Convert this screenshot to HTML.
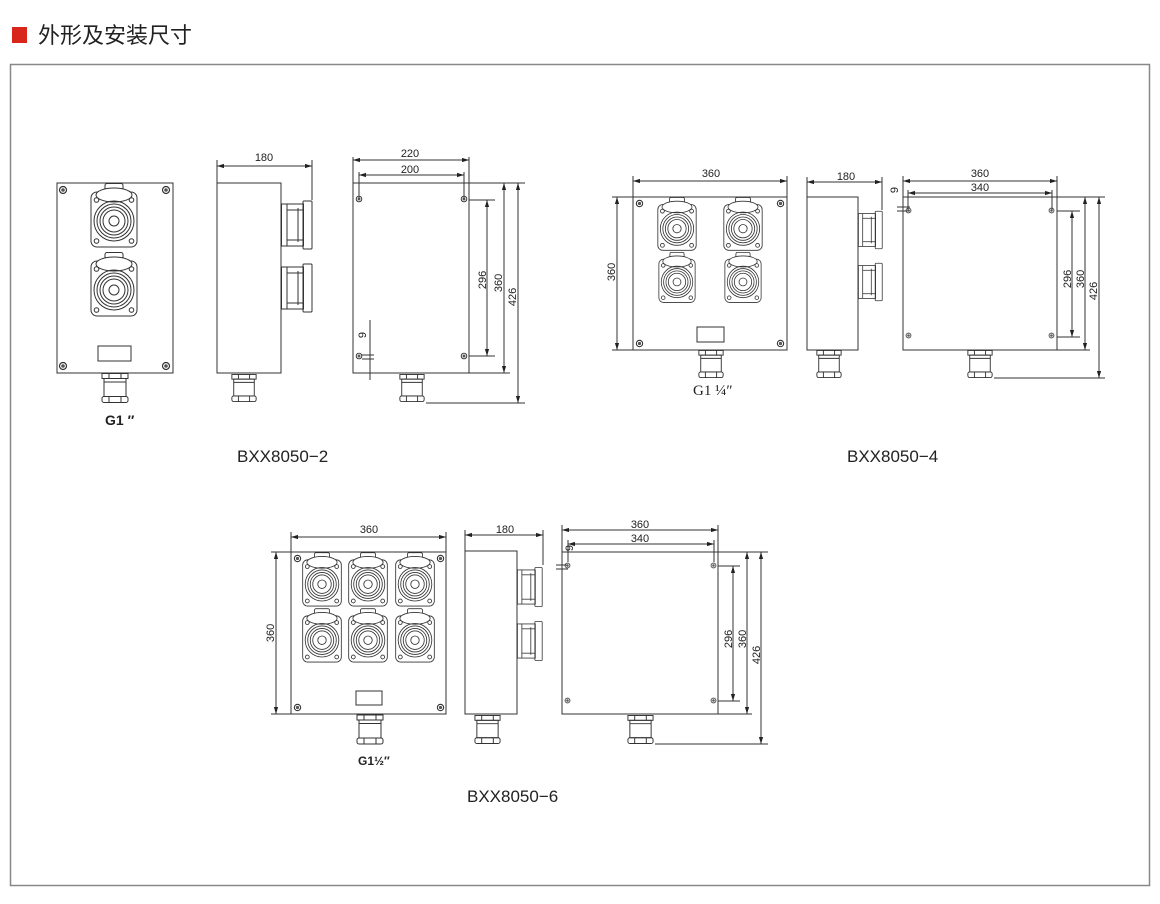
<!DOCTYPE html>
<html><head><meta charset="utf-8"><style>
html,body{margin:0;padding:0;background:#fff;width:1160px;height:904px;overflow:hidden}
svg{display:block}
text{font-family:"Liberation Sans",Arial,sans-serif;fill:#222}
</style></head><body>
<svg width="1160" height="904" viewBox="0 0 1160 904" xmlns="http://www.w3.org/2000/svg">
<defs>
<marker id="a" viewBox="0 0 10 10" refX="10" refY="5" markerWidth="7" markerHeight="7" orient="auto-start-reverse"><path d="M0,2 L10,5 L0,8 z" fill="#222"/></marker>
<symbol id="sock" viewBox="0 0 50 66">
 <g fill="none" stroke="#333" stroke-width="1">
 <rect x="16" y="0.5" width="18" height="8" rx="2"/>
 <rect x="2" y="9" width="46" height="55" rx="6"/>
 <ellipse cx="25" cy="12" rx="18" ry="7" fill="#fff"/>
 <circle cx="7.5" cy="17" r="2.3"/><circle cx="42.5" cy="17" r="2.3"/>
 <circle cx="7.5" cy="58" r="2.3"/><circle cx="42.5" cy="58" r="2.3"/>
 <circle cx="25" cy="38" r="20"/><circle cx="25" cy="38" r="17"/><circle cx="25" cy="38" r="14"/><circle cx="25" cy="38" r="11"/><circle cx="25" cy="38" r="5"/>
 </g></symbol>
<symbol id="side" viewBox="0 0 32 50">
 <g fill="none" stroke="#333" stroke-width="1">
 <rect x="0.5" y="4" width="22" height="42"/><rect x="22" y="1" width="9" height="48" rx="1"/>
 <line x1="6" y1="4" x2="6" y2="46"/><line x1="17" y1="8" x2="17" y2="42"/><line x1="6" y1="10" x2="22" y2="10"/><line x1="6" y1="40" x2="22" y2="40"/>
 </g></symbol>
<symbol id="gl" viewBox="0 0 30 30">
 <g fill="none" stroke="#333" stroke-width="1">
 <rect x="2" y="0.5" width="26" height="5"/><line x1="9" y1="0.5" x2="9" y2="5.5"/><line x1="21" y1="0.5" x2="21" y2="5.5"/>
 <rect x="4" y="5.5" width="22" height="18"/><line x1="4" y1="9" x2="26" y2="9"/>
 <rect x="2" y="23.5" width="26" height="6" rx="2"/><line x1="9" y1="23.5" x2="9" y2="29.5"/><line x1="21" y1="23.5" x2="21" y2="29.5"/>
 </g></symbol>
<symbol id="hole" viewBox="0 0 10 10"><circle cx="5" cy="5" r="3.5" fill="none" stroke="#333" stroke-width="1.2"/><circle cx="5" cy="5" r="1.8" fill="#555"/></symbol>
</defs>

<rect x="12" y="27" width="15" height="16" fill="#d9261c"/>
<text x="38" y="43" style="font-family:'Liberation Sans','Noto Sans CJK SC',sans-serif;font-size:22px" fill="#333">外形及安装尺寸</text>
<rect x="10.5" y="64.5" width="1139" height="821" fill="none" stroke="#888" stroke-width="1.5"/>

<g fill="none" stroke="#333" stroke-width="1">
<!-- Diagram 1 -->
<rect x="57" y="183" width="116" height="190"/>
<use href="#sock" x="89" y="183" width="50" height="66"/>
<use href="#sock" x="89" y="252" width="50" height="66"/>
<rect x="98" y="346" width="33" height="15"/>
<use href="#gl" x="100" y="373" width="30" height="30"/>
<rect x="217" y="183" width="64" height="190"/>
<use href="#side" x="281" y="200" width="32" height="50"/>
<use href="#side" x="281" y="263" width="32" height="50"/>
<use href="#gl" x="230" y="373" width="28" height="30"/>
<line x1="217" y1="160" x2="217" y2="183"/><line x1="312" y1="160" x2="312" y2="200"/>
<line x1="217" y1="166" x2="312" y2="166" marker-start="url(#a)" marker-end="url(#a)"/>
<rect x="353" y="183" width="116" height="190"/>
<use href="#gl" x="398" y="373" width="28" height="30"/>
<line x1="353" y1="157" x2="353" y2="183"/><line x1="469" y1="157" x2="469" y2="183"/>
<line x1="353" y1="160" x2="469" y2="160" marker-start="url(#a)" marker-end="url(#a)"/>
<line x1="359" y1="172" x2="359" y2="198"/><line x1="464" y1="172" x2="464" y2="198"/>
<line x1="359" y1="175" x2="464" y2="175" marker-start="url(#a)" marker-end="url(#a)"/>
<line x1="469" y1="200" x2="495" y2="200"/><line x1="469" y1="356" x2="495" y2="356"/>
<line x1="487" y1="200" x2="487" y2="356" marker-start="url(#a)" marker-end="url(#a)"/>
<line x1="469" y1="183" x2="525" y2="183"/><line x1="469" y1="373" x2="510" y2="373"/>
<line x1="504" y1="183" x2="504" y2="373" marker-start="url(#a)" marker-end="url(#a)"/>
<line x1="426" y1="403" x2="525" y2="403"/>
<line x1="518" y1="183" x2="518" y2="403" marker-start="url(#a)" marker-end="url(#a)"/>
<line x1="370" y1="320" x2="370" y2="380"/><line x1="362" y1="355" x2="374" y2="355"/><line x1="362" y1="359" x2="374" y2="359"/>

<!-- Diagram 2 -->
<rect x="633" y="197" width="154" height="153"/>
<use href="#sock" x="656" y="197" width="42" height="55"/>
<use href="#sock" x="722" y="197" width="42" height="55"/>
<use href="#sock" x="656" y="252" width="42" height="52"/>
<use href="#sock" x="722" y="252" width="42" height="52"/>
<rect x="697" y="327" width="27" height="15"/>
<use href="#gl" x="697" y="350" width="28" height="28"/>
<line x1="633" y1="176" x2="633" y2="197"/><line x1="787" y1="176" x2="787" y2="197"/>
<line x1="633" y1="181" x2="787" y2="181" marker-start="url(#a)" marker-end="url(#a)"/>
<line x1="612" y1="197" x2="633" y2="197"/><line x1="612" y1="350" x2="633" y2="350"/>
<line x1="617" y1="197" x2="617" y2="350" marker-start="url(#a)" marker-end="url(#a)"/>
<rect x="807" y="197" width="51" height="153"/>
<use href="#side" x="858" y="209" width="25" height="42"/>
<use href="#side" x="858" y="261" width="25" height="42"/>
<use href="#gl" x="815" y="350" width="28" height="28"/>
<line x1="807" y1="177" x2="807" y2="197"/><line x1="882" y1="177" x2="882" y2="210"/>
<line x1="807" y1="182" x2="882" y2="182" marker-start="url(#a)" marker-end="url(#a)"/>
<rect x="903" y="197" width="154" height="153"/>
<use href="#gl" x="966" y="350" width="28" height="28"/>
<line x1="903" y1="176" x2="903" y2="197"/><line x1="1057" y1="176" x2="1057" y2="197"/>
<line x1="903" y1="181" x2="1057" y2="181" marker-start="url(#a)" marker-end="url(#a)"/>
<line x1="908" y1="190" x2="908" y2="210"/><line x1="1052" y1="190" x2="1052" y2="210"/>
<line x1="908" y1="193" x2="1052" y2="193" marker-start="url(#a)" marker-end="url(#a)"/>
<line x1="1057" y1="211" x2="1080" y2="211"/><line x1="1057" y1="337" x2="1080" y2="337"/>
<line x1="1072" y1="211" x2="1072" y2="337" marker-start="url(#a)" marker-end="url(#a)"/>
<line x1="1057" y1="197" x2="1105" y2="197"/><line x1="1057" y1="350" x2="1090" y2="350"/>
<line x1="1085" y1="197" x2="1085" y2="350" marker-start="url(#a)" marker-end="url(#a)"/>
<line x1="994" y1="378" x2="1105" y2="378"/>
<line x1="1099" y1="197" x2="1099" y2="378" marker-start="url(#a)" marker-end="url(#a)"/>
<line x1="903" y1="185" x2="903" y2="225"/><line x1="897" y1="207" x2="910" y2="207"/><line x1="897" y1="211" x2="910" y2="211"/>

<!-- Diagram 3 -->
<rect x="291" y="552" width="155" height="162"/>
<use href="#sock" x="301" y="552" width="42" height="56"/>
<use href="#sock" x="347" y="552" width="42" height="56"/>
<use href="#sock" x="394" y="552" width="42" height="56"/>
<use href="#sock" x="301" y="608" width="42" height="56"/>
<use href="#sock" x="347" y="608" width="42" height="56"/>
<use href="#sock" x="394" y="608" width="42" height="56"/>
<rect x="356" y="691" width="26" height="14"/>
<use href="#gl" x="355" y="714" width="30" height="31"/>
<line x1="291" y1="532" x2="291" y2="552"/><line x1="446" y1="532" x2="446" y2="552"/>
<line x1="291" y1="537" x2="446" y2="537" marker-start="url(#a)" marker-end="url(#a)"/>
<line x1="271" y1="552" x2="291" y2="552"/><line x1="271" y1="714" x2="291" y2="714"/>
<line x1="276" y1="552" x2="276" y2="714" marker-start="url(#a)" marker-end="url(#a)"/>
<rect x="465" y="551" width="52" height="163"/>
<use href="#side" x="517" y="564" width="26" height="46"/>
<use href="#side" x="517" y="618" width="26" height="46"/>
<use href="#gl" x="473" y="714" width="29" height="31"/>
<line x1="465" y1="530" x2="465" y2="551"/><line x1="543" y1="530" x2="543" y2="565"/>
<line x1="465" y1="535" x2="543" y2="535" marker-start="url(#a)" marker-end="url(#a)"/>
<rect x="562" y="552" width="156" height="162"/>
<use href="#gl" x="626" y="714" width="29" height="31"/>
<line x1="562" y1="525" x2="562" y2="552"/><line x1="718" y1="525" x2="718" y2="552"/>
<line x1="562" y1="530" x2="718" y2="530" marker-start="url(#a)" marker-end="url(#a)"/>
<line x1="568" y1="540" x2="568" y2="562"/><line x1="714" y1="540" x2="714" y2="562"/>
<line x1="568" y1="544" x2="714" y2="544" marker-start="url(#a)" marker-end="url(#a)"/>
<line x1="718" y1="566" x2="740" y2="566"/><line x1="718" y1="701" x2="740" y2="701"/>
<line x1="733" y1="566" x2="733" y2="701" marker-start="url(#a)" marker-end="url(#a)"/>
<line x1="718" y1="552" x2="768" y2="552"/><line x1="718" y1="714" x2="752" y2="714"/>
<line x1="747" y1="552" x2="747" y2="714" marker-start="url(#a)" marker-end="url(#a)"/>
<line x1="655" y1="744" x2="768" y2="744"/>
<line x1="761" y1="552" x2="761" y2="744" marker-start="url(#a)" marker-end="url(#a)"/>
<line x1="562" y1="545" x2="562" y2="585"/><line x1="556" y1="565" x2="568" y2="565"/><line x1="556" y1="569" x2="568" y2="569"/>
</g>

<!-- holes -->
<use href="#hole" x="58" y="185" width="10" height="10"/><use href="#hole" x="161" y="185" width="10" height="10"/>
<use href="#hole" x="58" y="361" width="10" height="10"/><use href="#hole" x="161" y="361" width="10" height="10"/>
<use href="#hole" x="355" y="195" width="8" height="8"/><use href="#hole" x="460" y="195" width="8" height="8"/>
<use href="#hole" x="355" y="352" width="8" height="8"/><use href="#hole" x="460" y="352" width="8" height="8"/>
<use href="#hole" x="635" y="199" width="9" height="9"/><use href="#hole" x="776" y="199" width="9" height="9"/>
<use href="#hole" x="635" y="339" width="9" height="9"/><use href="#hole" x="776" y="339" width="9" height="9"/>
<use href="#hole" x="905" y="207" width="7" height="7"/><use href="#hole" x="1048" y="207" width="7" height="7"/>
<use href="#hole" x="905" y="332" width="7" height="7"/><use href="#hole" x="1048" y="332" width="7" height="7"/>
<use href="#hole" x="293" y="554" width="9" height="9"/><use href="#hole" x="436" y="554" width="9" height="9"/>
<use href="#hole" x="293" y="703" width="9" height="9"/><use href="#hole" x="436" y="703" width="9" height="9"/>
<use href="#hole" x="564" y="562" width="7" height="7"/><use href="#hole" x="710" y="562" width="7" height="7"/>
<use href="#hole" x="564" y="697" width="7" height="7"/><use href="#hole" x="710" y="697" width="7" height="7"/>

<g font-size="11" text-anchor="middle">
<text x="264" y="161">180</text>
<text x="410" y="157">220</text><text x="410" y="173">200</text>
<text transform="translate(486,280) rotate(-90)">296</text>
<text transform="translate(502,283) rotate(-90)">360</text>
<text transform="translate(516,297) rotate(-90)">426</text>
<text transform="translate(366,335) rotate(-90)">9</text>
<text x="711" y="177">360</text>
<text transform="translate(615,272) rotate(-90)">360</text>
<text x="846" y="180">180</text>
<text x="980" y="177">360</text><text x="980" y="191">340</text>
<text transform="translate(1071,279) rotate(-90)">296</text>
<text transform="translate(1084,279) rotate(-90)">360</text>
<text transform="translate(1097,291) rotate(-90)">426</text>
<text transform="translate(898,190) rotate(-90)">9</text>
<text x="369" y="533">360</text>
<text transform="translate(274,633) rotate(-90)">360</text>
<text x="505" y="533">180</text>
<text x="640" y="528">360</text><text x="640" y="542">340</text>
<text transform="translate(732,639) rotate(-90)">296</text>
<text transform="translate(746,639) rotate(-90)">360</text>
<text transform="translate(760,655) rotate(-90)">426</text>
<text transform="translate(573,548) rotate(-90)">9</text>
</g>
<text x="105" y="425" font-size="14" font-weight="bold">G1 ″</text>
<text x="693" y="395" font-size="15" style="font-family:'Liberation Serif',serif">G1 ¼″</text>
<text x="358" y="765" font-size="12" font-weight="bold">G1½″</text>
<g font-size="17">
<text x="237" y="462">BXX8050−2</text>
<text x="847" y="462">BXX8050−4</text>
<text x="467" y="802">BXX8050−6</text>
</g>
</svg>
</body></html>
